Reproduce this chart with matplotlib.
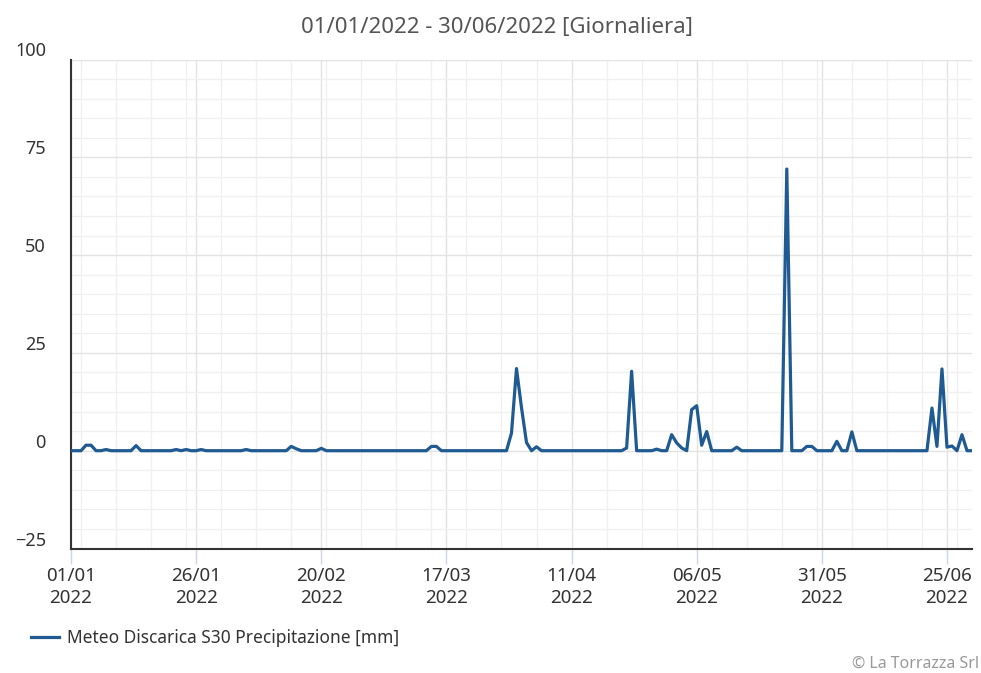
import numpy as np
import pandas as pd
import matplotlib
matplotlib.use("Agg")
import matplotlib.pyplot as plt
import matplotlib.dates as mdates
from matplotlib.transforms import ScaledTranslation

# daily precipitation, only the rainy days are listed (all other days read as 0)
rain_days = ["2022-01-04", "2022-01-05", "2022-01-08", "2022-01-14", "2022-01-22",
             "2022-01-24", "2022-01-27", "2022-02-05", "2022-02-14", "2022-02-15",
             "2022-02-20", "2022-03-14", "2022-03-15", "2022-03-30", "2022-03-31",
             "2022-04-01", "2022-04-02", "2022-04-04", "2022-04-22", "2022-04-23",
             "2022-04-28", "2022-05-01", "2022-05-02", "2022-05-03", "2022-05-05",
             "2022-05-06", "2022-05-07", "2022-05-08", "2022-05-14", "2022-05-24",
             "2022-05-28", "2022-05-29", "2022-06-03", "2022-06-06", "2022-06-22",
             "2022-06-23", "2022-06-24", "2022-06-25", "2022-06-26", "2022-06-28"]
rain_mm = [1.4, 1.4, 0.3, 1.3, 0.3,
           0.3, 0.3, 0.3, 1.1, 0.5,
           0.6, 1.1, 1.1, 4.5, 21.0,
           11.0, 2.1, 1.0, 0.7, 20.3,
           0.4, 4.1, 2.0, 0.7, 10.5,
           11.5, 1.4, 4.9, 0.9, 72.0,
           1.1, 1.1, 2.4, 4.8, 10.9,
           1.1, 20.9, 0.9, 1.2, 4.1]

start_date = "2022-01-01"
end_date = "2022-06-30"
tick_dates = ["2022-01-01", "2022-01-26", "2022-02-20", "2022-03-17",
              "2022-04-11", "2022-05-06", "2022-05-31", "2022-06-25"]
y_major = [-25, 0, 25, 50, 75, 100]
series_label = "Meteo Discarica S30 Precipitazione [mm]"
title = "01/01/2022 - 30/06/2022 [Giornaliera]"

days = pd.date_range(start_date, end_date, freq="D")
precip = pd.Series(0.0, index=days)
precip[pd.to_datetime(rain_days)] = rain_mm

plt.rcParams["font.family"] = ["Noto Sans", "DejaVu Sans"]

W, H = 981, 673
fig = plt.figure(figsize=(W / 100, H / 100), dpi=100)
left, right, top, bottom = 71, 972, 59.5, 548.5
ax = fig.add_axes([left / W, 1 - bottom / H, (right - left) / W, (bottom - top) / H])

ax.plot(precip.index, precip.values, color="#1f5b92", linewidth=2.3,
        solid_joinstyle="round", label=series_label, zorder=3)

ax.set_xlim(pd.Timestamp(start_date), pd.Timestamp(end_date))
ax.set_ylim(-25, 100)

# grid: weekly minor lines (mondays), ticks every 25 days, y every 5 / 25
ax.set_xticks(pd.to_datetime(tick_dates))
ax.xaxis.set_major_formatter(mdates.DateFormatter("%d/%m\n%Y"))
ax.xaxis.set_minor_locator(mdates.WeekdayLocator(byweekday=mdates.MO))
ax.set_yticks(y_major)
ax.set_yticks(np.arange(-25, 101, 5), minor=True)
ax.grid(which="major", color="#e3e3e3", linewidth=1.0)
ax.grid(which="minor", color="#f0f0f0", linewidth=1.0)
ax.set_axisbelow(True)

for s in ["top", "right"]:
    ax.spines[s].set_visible(False)
ax.spines["left"].set_color("#333333")
ax.spines["left"].set_linewidth(1.5)
ax.spines["bottom"].set_color("#333333")
ax.spines["bottom"].set_linewidth(1.5)

ax.tick_params(axis="x", which="major", length=11, width=1, color="#ccd6eb",
               labelsize=13.5, labelcolor="#333333", pad=2)
ax.tick_params(axis="x", which="minor", length=0)
ax.tick_params(axis="y", which="both", length=0, labelsize=13,
               labelcolor="#333333", pad=18)
for lab in ax.get_xticklabels():
    lab.set_linespacing(1.35)

# y labels sit a little above their grid line
offset = ScaledTranslation(0, 10 / 100, fig.dpi_scale_trans)
for tick in ax.yaxis.get_major_ticks():
    tick.label1.set_transform(tick.label1.get_transform() + offset)

fig.text(497 / W, 1 - 27 / H, title, ha="center", va="center",
         fontsize=16, color="#555555")

leg = ax.legend(loc="upper left", bbox_to_anchor=(24 / W, 1 - 622 / H),
                bbox_transform=fig.transFigure, frameon=False,
                fontsize=12.5, handlelength=1.6, handletextpad=0.5,
                borderaxespad=0)
for t in leg.get_texts():
    t.set_color("#333333")

fig.text(852 / W, 1 - 664 / H, "\u00a9 La Torrazza Srl", ha="left", va="center",
         fontsize=11.5, color="#999999")

fig.savefig("out.png", dpi=100)
